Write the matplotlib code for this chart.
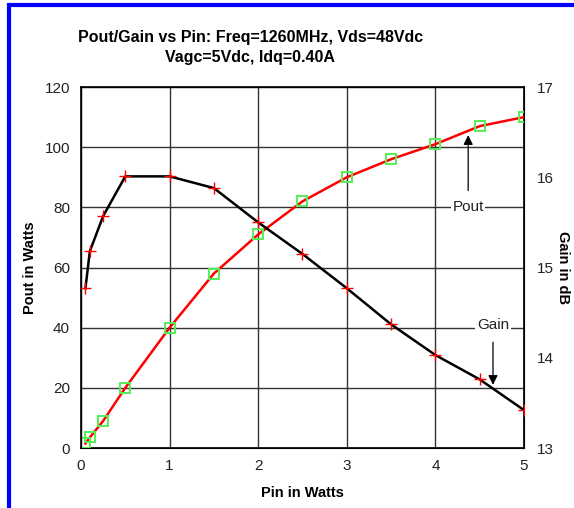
import matplotlib
matplotlib.use("Agg")
import matplotlib.pyplot as plt
from matplotlib.patches import Rectangle

# Pin in Watts
pin = [0.05, 0.1, 0.25, 0.5, 1.0, 1.5, 2.0, 2.5, 3.0, 3.5, 4.0, 4.5, 5.0]
# Pout in Watts
pout = [1.5, 3.5, 9, 20, 40, 58, 71, 82, 90, 96, 101, 107, 110]
# Gain in dB
gain = [14.77, 15.18, 15.57, 16.01, 16.01, 15.88, 15.50, 15.15, 14.77, 14.37, 14.03, 13.76, 13.42]

plt.rcParams['font.family'] = ['Liberation Sans', 'DejaVu Sans']

fig = plt.figure(figsize=(5.74, 5.08), dpi=100)
ax = fig.add_axes([0.1411, 0.1181, 0.7718, 0.7106])

ax.plot(pin, pout, color='red', lw=1.8, marker='s', ms=6.5, mfc='none',
        mec='#55ee55', mew=1.4, zorder=3)
ax.set_xlim(0, 5)
ax.set_ylim(0, 120)
ax.set_xticks(range(0, 6))
ax.set_yticks(range(0, 121, 20))
ax.grid(True, color='#333333', lw=1.0)
ax.set_axisbelow(True)
ax.tick_params(length=0, pad=8, labelsize=11, colors='#222222')
for s in ax.spines.values():
    s.set_color('black')
    s.set_linewidth(1.2)

ax2 = ax.twinx()
ax2.plot(pin, gain, color='black', lw=1.8, marker='+', ms=8, mec='red',
         mew=1.0, zorder=3)
ax2.set_ylim(13, 17)
ax2.set_yticks([13, 14, 15, 16, 17])
ax2.tick_params(length=0, pad=9, labelsize=11, colors='#222222')

ax.set_xlabel('Pin in Watts', fontsize=10.5, fontweight='bold', labelpad=9)
ax.set_ylabel('Pout in Watts', fontsize=10.5, fontweight='bold', va='center')
ax.yaxis.set_label_coords(-0.115, 0.5)
ax2.set_ylabel('Gain in dB', fontsize=10.5, fontweight='bold', rotation=-90,
               va='center')
ax2.yaxis.set_label_coords(1.087, 0.5)

fig.text(0.436, 0.927, 'Pout/Gain vs Pin: Freq=1260MHz, Vds=48Vdc',
         ha='center', va='center', fontsize=11.5, fontweight='bold')
fig.text(0.436, 0.886, 'Vagc=5Vdc, Idq=0.40A',
         ha='center', va='center', fontsize=11.5, fontweight='bold')

# annotations
ax.annotate('Pout', xy=(4.37, 104), xytext=(4.37, 80), ha='center', va='center',
            fontsize=11, color='#222222',
            bbox=dict(boxstyle='square,pad=0.1', fc='white', ec='none'),
            arrowprops=dict(arrowstyle='-|>', color='black', lw=0.9,
                            shrinkA=6, shrinkB=0, mutation_scale=14))
ax.annotate('Gain', xy=(4.65, 21), xytext=(4.65, 41), ha='center', va='center',
            fontsize=11, color='#222222',
            bbox=dict(boxstyle='square,pad=0.15', fc='white', ec='none'),
            arrowprops=dict(arrowstyle='-|>', color='black', lw=0.9,
                            shrinkA=6, shrinkB=0, mutation_scale=14))

# blue frame
fig.patches.append(Rectangle((0.0165, -0.05), 1.1, 1.04, transform=fig.transFigure,
                             fill=False, ec='blue', lw=3))

fig.savefig('out.png', dpi=100)
